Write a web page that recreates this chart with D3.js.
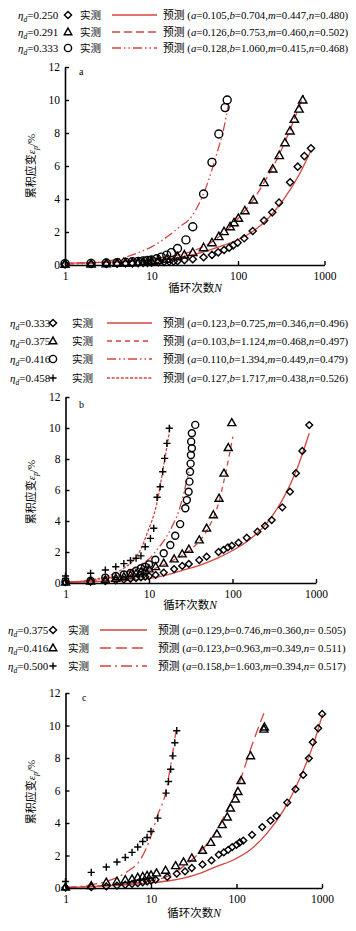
<!DOCTYPE html>
<html><head><meta charset="utf-8">
<script src="https://cdn.jsdelivr.net/npm/d3@7"></script>
<style>body{margin:0;background:#fff}svg{display:block}</style>
</head><body>
<script>
// ---------- DATA ----------
const xTicks = [1, 10, 100, 1000];
const yTicks = [0, 2, 4, 6, 8, 10, 12];
const panelLetters = ["a", "b", "c"];

// Panel a
const aEta = ["0.250", "0.291", "0.333"];
const aParams = [["0.105","0.704","0.447","0.480"],["0.126","0.753","0.460","0.502"],["0.128","1.060","0.415","0.468"]];
const aDiaN = [1,2,3,4,5,6,7,8,9,10,12,14,16,18,20,24,30,40,50,59,69,79,88,99,118,148,200,249,298,400,490,585,698];
const aDiaE = [0.05,0.06,0.07,0.08,0.09,0.10,0.11,0.12,0.13,0.14,0.17,0.19,0.21,0.22,0.24,0.30,0.35,0.47,0.61,0.77,0.91,1.05,1.19,1.35,1.62,2.06,2.69,3.19,3.78,5.01,5.96,6.60,7.07];
const aTriN = [1,2,3,4,5,6,7,8,9,10,12,15,20,24,30,40,50,60,69,81,90,101,120,150,200,252,300,349,399,448,507,560];
const aTriE = [0.05,0.06,0.08,0.10,0.12,0.14,0.16,0.18,0.20,0.22,0.27,0.35,0.50,0.61,0.75,1.05,1.35,1.72,2.02,2.32,2.56,2.83,3.29,3.94,4.99,5.82,6.63,7.41,8.12,8.83,9.45,10.0];
const aCirN = [1,2,3,4,5,6,7,8,9,10,11.5,13,15,17,20,25,30,40,50,60,71,75];
const aCirE = [0.08,0.10,0.12,0.14,0.17,0.20,0.22,0.25,0.28,0.30,0.38,0.48,0.60,0.75,1.00,1.52,2.32,4.30,6.22,7.94,9.54,10.0];
const aFit1N = [1,2,5,10,20,40,60,88,137,214,334,520,700];
const aFit1E = [0.10,0.13,0.20,0.30,0.45,0.80,1.10,1.41,1.92,2.73,3.94,5.56,6.95];
const aFit2N = [1,2,5,10,20,30,50,70,100,150,200,300,400,500,572];
const aFit2E = [0.10,0.15,0.25,0.38,0.60,0.85,1.40,2.00,2.80,3.95,5.00,6.70,8.20,9.50,10.3];
const aFit3N = [1,2,3.6,6.7,10,16,21,29,43,57,68,78];
const aFit3E = [0.05,0.12,0.30,0.70,1.10,1.80,2.30,2.93,4.75,6.77,8.20,9.80];

// Panel b
const bEta = ["0.333", "0.375", "0.416", "0.458"];
const bParams = [["0.123","0.725","0.346","0.496"],["0.103","1.124","0.468","0.497"],["0.110","1.394","0.449","0.479"],["0.127","1.717","0.438","0.526"]];
const bDiaN = [1,2,3,4,5,6,7,8,9,10,12,15,20,25,30,40,49,68,78,88,98,118,148,199,245,295,395,488,575,685,830];
const bDiaE = [0.05,0.08,0.12,0.17,0.22,0.27,0.32,0.37,0.41,0.45,0.52,0.67,0.90,1.10,1.23,1.48,1.70,2.00,2.13,2.30,2.41,2.60,2.92,3.31,3.68,4.06,4.88,5.89,7.08,8.52,10.19];
const bTriN = [1,2,3,4,5,6,7,8,9,10,12,15,20,25,30,40,49,59,69,79,89,98];
const bTriE = [0.05,0.12,0.20,0.30,0.40,0.50,0.60,0.70,0.80,0.90,1.05,1.27,1.55,1.87,2.17,2.77,3.53,4.39,5.46,7.08,8.73,10.34];
const bCirN = [1,2,3,4,5,6,7,8,9,10,11.9,15,18,20.6,23.6,27.2,28.4,29.8,30.5,31,31.5,31.8,32.6,32,32.6,35.8];
const bCirE = [0.10,0.15,0.35,0.45,0.55,0.65,0.80,0.95,1.05,1.20,1.50,1.92,2.45,3.05,3.80,4.82,5.35,5.89,6.54,7.18,7.70,8.26,8.69,9.12,9.66,10.2];
const bPluN = [1,1,2,3,4,5,6,7,8,9,10.4,11.4,12.5,13.6,14.6,15.4,16.4,17.5];
const bPluE = [0.30,0.45,0.63,0.84,1.05,1.25,1.45,1.60,1.75,2.34,2.88,3.53,5.53,6.21,7.18,8.04,9.01,9.98];
const bFit1N = [1,2,5,10.4,16.4,26,41,65,103,162,256,405,585,830];
const bFit1E = [0.05,0.08,0.17,0.30,0.52,0.84,1.16,1.59,2.13,2.82,3.85,5.46,7.29,9.66];
const bFit2N = [1,2,5,10.4,18,31,47,68,85,101];
const bFit2E = [0.05,0.15,0.45,0.84,1.38,2.13,3.20,5.14,7.40,9.44];
const bFit3N = [1,3,5,8,10,12.4,18,23.6,27.2,30];
const bFit3E = [0.05,0.30,0.60,1.20,1.55,2.13,3.42,4.92,6.21,7.20];
const bFit4N = [1,2,3,4,5,6,8,9.5,12.4,14.9,18];
const bFit4E = [0.05,0.20,0.40,0.65,0.95,1.27,2.20,3.20,5.14,7.50,10.1];

// Panel c
const cEta = ["0.375", "0.416", "0.500"];
const cParams = [["0.129","0.746","0.360"," 0.505"],["0.123","0.963","0.349"," 0.511"],["0.158","1.603","0.394"," 0.517"]];
const cDiaN = [1,2,3,4,5,6,7,8,9,10,11.3,15.5,20,25,30,40,51,62,71,80,89,100,109,120,152,200,250,294,392,490,603,702,781,902,1005];
const cDiaE = [0.02,0.05,0.10,0.15,0.20,0.25,0.30,0.35,0.40,0.45,0.51,0.68,0.88,1.02,1.23,1.45,1.70,2.05,2.19,2.35,2.52,2.66,2.80,2.92,3.27,3.75,4.15,4.44,5.26,6.08,6.96,7.98,8.97,9.83,10.71];
const cTriN = [1,2,3,4,5,6,7,8,9,10,11.6,14.8,19.4,24,30,40,50,59,68,78,85,97,104,113,146,209,212];
const cTriE = [0.05,0.14,0.35,0.41,0.50,0.55,0.65,0.70,0.76,0.80,0.92,1.08,1.37,1.60,1.84,2.31,2.80,3.32,3.89,4.36,4.91,5.47,5.93,6.61,8.13,9.77,9.90];
const cPluN = [1,2,3,4,5,6,7,8,9,10,12,15,16,17,18,19,20];
const cPluE = [0.40,0.96,1.29,1.60,1.88,2.19,2.52,2.86,3.11,3.48,4.30,5.84,6.55,7.31,8.13,8.94,9.68];
const cFit1N = [1,2,5,10,15.5,24,38,59,93,145,228,357,563,800,1015];
const cFit1E = [0.02,0.08,0.20,0.32,0.43,0.61,0.92,1.33,1.74,2.35,3.38,4.81,6.86,8.90,10.7];
const cFit2N = [1,2,5,10,15.5,24,38,59,78,111,145,209];
const cFit2E = [0.02,0.10,0.25,0.45,0.71,1.33,2.25,3.58,4.81,6.65,8.50,10.75];
const cFit3N = [1,2,3.4,5.3,7.5,10.3,11.8,14.8,16.9,19.7];
const cFit3E = [0.02,0.20,0.50,1.02,1.74,3.38,4.40,5.84,7.47,9.72];

// ---------- STYLE / LAYOUT ----------
const RED = "#d8433e";
const FONT = "'Liberation Serif','Times New Roman','Noto Sans CJK SC',serif";
const zip = (N, E) => N.map((n, i) => ({n, e: E[i]}));

const dashes = {
  solid: null,
  longdash: "8,4",
  dashdotdot: "9,3,1.5,3,1.5,3",
  medDash: "5,4",
  fineDash: "3,1.6",
  cLong: "11,5",
  dashdot: "11,4,2,4"
};

const panels = [
  {
    letter: panelLetters[0], xr: [65, 324.5], yr: [265, 67], letterPos: [79, 75],
    ytitle: [35, 166], xtitle: [195, 292], xlabY: 280,
    legend: {rows: [15, 32, 48], eta: 18, mk: 68, meas: 80, l0: 112, l1: 157, pred: 163},
    series: [
      {eta: aEta[0], params: aParams[0], mk: "diamond", dash: "solid", pts: zip(aDiaN, aDiaE), fit: zip(aFit1N, aFit1E), s: 3.6},
      {eta: aEta[1], params: aParams[1], mk: "triangle", dash: "longdash", pts: zip(aTriN, aTriE), fit: zip(aFit2N, aFit2E), s: 4.0},
      {eta: aEta[2], params: aParams[2], mk: "circle", dash: "dashdotdot", pts: zip(aCirN, aCirE), fit: zip(aFit3N, aFit3E), s: 4.0}
    ]
  },
  {
    letter: panelLetters[1], xr: [65.5, 316], yr: [583, 397], letterPos: [79, 408],
    ytitle: [35, 492], xtitle: [190, 609], xlabY: 597,
    legend: {rows: [323, 341, 359, 378], eta: 10, mk: 53, meas: 72, l0: 107, l1: 152, pred: 163},
    series: [
      {eta: bEta[0], params: bParams[0], mk: "diamond", dash: "solid", pts: zip(bDiaN, bDiaE), fit: zip(bFit1N, bFit1E), s: 3.4},
      {eta: bEta[1], params: bParams[1], mk: "triangle", dash: "medDash", pts: zip(bTriN, bTriE), fit: zip(bFit2N, bFit2E), s: 3.8},
      {eta: bEta[2], params: bParams[2], mk: "circle", dash: "dashdotdot", pts: zip(bCirN, bCirE), fit: zip(bFit3N, bFit3E), s: 3.5},
      {eta: bEta[3], params: bParams[3], mk: "plus", dash: "fineDash", pts: zip(bPluN, bPluE), fit: zip(bFit4N, bFit4E), s: 3.6}
    ]
  },
  {
    letter: panelLetters[2], xr: [65.5, 322], yr: [888, 693], letterPos: [82, 701],
    ytitle: [35, 792], xtitle: [194, 917], xlabY: 903,
    legend: {rows: [630, 648, 666], eta: 8, mk: 53, meas: 68, l0: 100, l1: 147, pred: 158},
    series: [
      {eta: cEta[0], params: cParams[0], mk: "diamond", dash: "solid", pts: zip(cDiaN, cDiaE), fit: zip(cFit1N, cFit1E), s: 3.4},
      {eta: cEta[1], params: cParams[1], mk: "triangle", dash: "cLong", pts: zip(cTriN, cTriE), fit: zip(cFit2N, cFit2E), s: 3.8},
      {eta: cEta[2], params: cParams[2], mk: "plus", dash: "dashdot", pts: zip(cPluN, cPluE), fit: zip(cFit3N, cFit3E), s: 3.6}
    ]
  }
];

const svg = d3.select("body").append("svg")
  .attr("width", 356).attr("height", 931)
  .style("font-family", FONT);

function markerPath(type, x, y, s) {
  if (type === "diamond") return `M${x},${y - s}L${x + s},${y}L${x},${y + s}L${x - s},${y}Z`;
  if (type === "triangle") return `M${x},${y - s * 1.1}L${x + s * 1.05},${y + s * 0.75}L${x - s * 1.05},${y + s * 0.75}Z`;
  if (type === "plus") return `M${x - s},${y}H${x + s}M${x},${y - s}V${y + s}`;
  return null;
}
function drawMarker(g, type, x, y, s) {
  if (type === "circle") {
    g.append("circle").attr("cx", x).attr("cy", y).attr("r", s)
      .attr("fill", "none").attr("stroke", "#000").attr("stroke-width", 1.4);
  } else {
    g.append("path").attr("d", markerPath(type, x, y, s))
      .attr("fill", "none").attr("stroke", "#000").attr("stroke-width", 1.4)
      .attr("stroke-linejoin", "miter");
  }
}

panels.forEach(p => {
  const g = svg.append("g");
  const x = d3.scaleLog().domain([1, 1000]).range(p.xr);
  const y = d3.scaleLinear().domain([0, 12]).range(p.yr);

  // fitted curves
  const line = d3.line().x(d => x(d.n)).y(d => y(d.e)).curve(d3.curveMonotoneX);
  p.series.forEach(s => {
    g.append("path").datum(s.fit).attr("d", line)
      .attr("fill", "none").attr("stroke", RED).attr("stroke-width", 1.3)
      .attr("stroke-dasharray", dashes[s.dash]);
  });

  // axes
  const yAxis = d3.axisLeft(y).tickValues(yTicks).tickSizeInner(-4).tickSizeOuter(0).tickPadding(5).tickFormat(d3.format("d"));
  const xAxis = d3.axisBottom(x).tickValues(xTicks).tickSizeInner(-4).tickSizeOuter(0).tickPadding(7).tickFormat(d3.format("d"));
  const gy = g.append("g").attr("transform", `translate(${p.xr[0]},0)`).call(yAxis);
  const gx = g.append("g").attr("transform", `translate(0,${p.yr[0]})`).call(xAxis);
  [gx, gy].forEach(ax => {
    ax.select(".domain").attr("stroke", "#000").attr("stroke-width", 1.6);
    ax.selectAll(".tick line").attr("stroke", "#000").attr("stroke-width", 1.4);
    ax.selectAll(".tick text").attr("fill", "#000").style("font-family", FONT).style("font-size", "11.5px");
  });

  // markers
  p.series.forEach(s => {
    const mg = g.append("g");
    s.pts.forEach(d => drawMarker(mg, s.mk, x(d.n), y(d.e), s.s));
  });

  // panel letter
  g.append("text").attr("x", p.letterPos[0]).attr("y", p.letterPos[1])
    .style("font-size", "10px").text(p.letter);

  // y title
  const yt = g.append("text")
    .attr("transform", `translate(${p.ytitle[0]},${p.ytitle[1]}) rotate(-90)`)
    .attr("text-anchor", "middle").style("font-size", "11px");
  yt.append("tspan").text("累积应变");
  yt.append("tspan").style("font-style", "italic").text("ε");
  yt.append("tspan").attr("dy", 2.5).style("font-size", "8px").style("font-style", "italic").text("p");
  yt.append("tspan").attr("dy", -2.5).text("/%");

  // x title
  const xt = g.append("text").attr("x", p.xtitle[0]).attr("y", p.xtitle[1])
    .attr("text-anchor", "middle").style("font-size", "11.5px");
  xt.append("tspan").text("循环次数");
  xt.append("tspan").style("font-style", "italic").text("N");

  // legend
  const L = p.legend;
  p.series.forEach((s, i) => {
    const cy = L.rows[i];
    const lg = g.append("g");
    const t1 = lg.append("text").attr("x", L.eta).attr("y", cy + 4).style("font-size", "11px");
    t1.append("tspan").style("font-style", "italic").text("η");
    t1.append("tspan").attr("dy", 2.5).style("font-size", "7.5px").style("font-style", "italic").text("d");
    t1.append("tspan").attr("dy", -2.5).text("=" + s.eta);
    drawMarker(lg, s.mk, L.mk, cy, s.mk === "circle" ? 3.6 : 3.6);
    lg.append("text").attr("x", L.meas).attr("y", cy + 4).style("font-size", "10.5px").text("实测");
    lg.append("line").attr("x1", L.l0).attr("x2", L.l1).attr("y1", cy).attr("y2", cy)
      .attr("stroke", RED).attr("stroke-width", 1.4).attr("stroke-dasharray", dashes[s.dash]);
    const t2 = lg.append("text").attr("x", L.pred).attr("y", cy + 4).style("font-size", "10.8px");
    t2.append("tspan").text("预测 (");
    const names = ["a", "b", "m", "n"];
    names.forEach((nm, k) => {
      t2.append("tspan").style("font-style", "italic").text(nm);
      t2.append("tspan").text("=" + s.params[k] + (k < 3 ? "," : ")"));
    });
  });
});
</script>
</body></html>
